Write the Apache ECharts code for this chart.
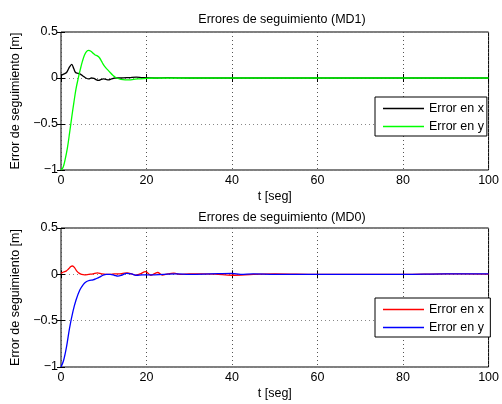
<!DOCTYPE html>
<html>
<head>
<meta charset="utf-8">
<script src="https://cdn.jsdelivr.net/npm/echarts@6/dist/echarts.min.js"></script>
<style>html,body{margin:0;padding:0;background:#fff;}#c{width:502px;height:404px;}</style>
</head>
<body>
<div id="c"></div>
<script>
// ---- Data ----
var titles = ['Errores de seguimiento (MD1)', 'Errores de seguimiento (MD0)'];
var seriesNames = ['Error en x', 'Error en y'];
var xTicks = [0, 20, 40, 60, 80, 100];
var yTicks = [-1, -0.5, 0, 0.5];

// MD1 (top)
var tX1 = [0, 0.5, 1.3, 2, 2.5, 3, 3.4, 4, 4.6, 5.2, 5.8, 6.5, 7.1, 7.7, 8.3, 8.8, 9.4, 9.9, 10.5, 11.1, 11.8, 12.6, 14, 16, 17.6, 19, 22, 25, 30, 40, 50, 60, 70, 80, 90, 100];
var eX1 = [0.03, 0.04, 0.06, 0.12, 0.148, 0.1, 0.06, 0.05, 0.04, 0.02, 0, -0.01, 0, -0.005, -0.02, -0.025, -0.015, -0.01, -0.015, -0.02, -0.01, 0, 0, 0.005, 0.01, 0.005, 0, 0.003, 0, 0, 0, 0, 0, 0, 0, 0];
var tY1 = [0, 0.5, 1, 1.5, 2, 2.5, 3, 3.5, 4, 4.5, 5, 5.5, 6, 6.5, 7, 7.5, 8, 8.5, 9, 9.5, 10, 10.5, 11, 11.5, 12, 12.5, 13, 14, 15, 16, 17, 18, 20, 22, 25, 30, 40, 60, 80, 100];
var eY1 = [-1, -0.97, -0.88, -0.76, -0.6, -0.43, -0.27, -0.12, -0.01, 0.09, 0.18, 0.25, 0.29, 0.3, 0.29, 0.27, 0.25, 0.24, 0.22, 0.18, 0.14, 0.11, 0.085, 0.06, 0.035, 0.015, 0, -0.015, -0.02, -0.02, -0.015, -0.01, -0.005, 0, 0, 0, 0, 0, 0, 0];

// MD0 (bottom)
var tX0 = [0, 0.6, 1.2, 1.8, 2.3, 2.7, 3.2, 3.7, 4.3, 4.8, 5.5, 6.5, 7.5, 8.5, 9.5, 10.5, 11.5, 12.5, 13.5, 14.5, 15.5, 16.5, 17.5, 18.5, 19.8, 21, 22.6, 23.7, 25, 26.4, 28, 30, 33, 36, 40, 45, 50, 60, 70, 80, 90, 100];
var eX0 = [0.01, 0.025, 0.035, 0.06, 0.085, 0.09, 0.07, 0.035, 0.01, 0, -0.005, 0, 0.005, 0.015, 0.005, 0, 0, 0.005, 0.005, 0.01, 0.015, 0.005, -0.01, 0.005, 0.03, -0.01, 0.02, -0.008, 0.005, 0.012, 0, 0.005, 0.005, 0.003, -0.01, 0, 0.005, 0, 0, 0, 0.005, 0.003];
var tY0 = [0, 0.6, 1.3, 2, 2.8, 3.5, 4.4, 5.2, 5.9, 6.7, 7.5, 8.3, 9, 9.8, 10.6, 11.5, 12.5, 13.3, 14.2, 15.3, 16.5, 17.6, 19, 21, 24, 27, 30, 35, 40, 42, 45, 50, 60, 70, 80, 90, 100];
var eY0 = [-1, -0.93, -0.78, -0.58, -0.40, -0.28, -0.17, -0.11, -0.08, -0.065, -0.06, -0.045, -0.03, -0.01, 0, 0, -0.01, -0.02, -0.01, 0.01, 0.005, -0.01, -0.005, -0.005, 0, 0.005, 0, 0.005, 0.01, 0, 0.005, 0, 0, 0, 0, 0.005, 0.005];

function pairs(t, v) { return t.map(function (x, i) { return [x, v[i]]; }); }

var FONT = 'Liberation Sans, Arial, sans-serif';
var FS = 12.5;
var chart = echarts.init(document.getElementById('c'));

function fmt(v) { return String(v).replace('-', '\u2212'); }

var grids = [
  { left: 61, right: 10, top: 32, height: 138, show: true, borderColor: '#000', borderWidth: 1, backgroundColor: '#fff' },
  { left: 61, right: 10, top: 228, height: 139, show: true, borderColor: '#000', borderWidth: 1, backgroundColor: '#fff' }
];

var xAxes = [], yAxes = [];
[0, 1].forEach(function (g) {
  xAxes.push({
    type: 'value', gridIndex: g, min: xTicks[0], max: xTicks[xTicks.length - 1], interval: 20,
    position: 'bottom',
    name: 't [seg]', nameLocation: 'middle', nameGap: 20,
    nameTextStyle: { color: '#000', fontSize: FS, fontFamily: FONT },
    axisLine: { show: false },
    axisTick: { show: true, inside: true, length: 4, lineStyle: { color: '#000' } },
    axisLabel: { color: '#000', fontSize: FS, fontFamily: FONT, margin: 4, formatter: fmt },
    splitLine: { show: true, lineStyle: { color: '#555', type: [1, 3], width: 1 } }
  });
  xAxes.push({
    type: 'value', gridIndex: g, min: xTicks[0], max: xTicks[xTicks.length - 1], interval: 20,
    position: 'top',
    axisLine: { show: false },
    axisTick: { show: true, inside: true, length: 4, lineStyle: { color: '#000' } },
    axisLabel: { show: false }, splitLine: { show: false }
  });
  yAxes.push({
    type: 'value', gridIndex: g, min: yTicks[0], max: yTicks[yTicks.length - 1], interval: 0.5,
    position: 'left',
    name: 'Error de seguimiento [m]', nameLocation: 'middle', nameGap: 35,
    nameTextStyle: { color: '#000', fontSize: FS, fontFamily: FONT },
    axisLine: { show: false },
    axisTick: { show: true, inside: true, length: 4, lineStyle: { color: '#000' } },
    axisLabel: { color: '#000', fontSize: FS, fontFamily: FONT, margin: 3, formatter: fmt },
    splitLine: { show: true, lineStyle: { color: '#888', type: [1, 3], width: 1 } }
  });
  yAxes.push({
    type: 'value', gridIndex: g, min: yTicks[0], max: yTicks[yTicks.length - 1], interval: 0.5,
    position: 'right',
    axisLine: { show: false },
    axisTick: { show: true, inside: true, length: 4, lineStyle: { color: '#000' } },
    axisLabel: { show: false }, splitLine: { show: false }
  });
});

function line(name, data, color, g) {
  return {
    type: 'line', name: name, data: data, xAxisIndex: g * 2, yAxisIndex: g * 2,
    symbol: 'none', smooth: 0.35, lineStyle: { color: color, width: 1.3 }, itemStyle: { color: color },
    animation: false, z: 3
  };
}

var n0 = seriesNames[0] + ' ', n1 = seriesNames[1] + ' ';
var series = [
  line(seriesNames[0], pairs(tX1, eX1), '#000000', 0),
  line(seriesNames[1], pairs(tY1, eY1), '#00ff00', 0),
  line(n0, pairs(tX0, eX0), '#ff0000', 1),
  line(n1, pairs(tY0, eY0), '#0000ff', 1)
];

function legend(top, names) {
  return {
    left: 375, top: top, orient: 'vertical',
    data: names.map(function (n) { return { name: n, icon: 'rect' }; }),
    backgroundColor: '#fff', borderColor: '#000', borderWidth: 1,
    padding: [4, 3, 2, 8], itemGap: 3, itemWidth: 41, itemHeight: 1.3,
    textStyle: { color: '#000', fontSize: FS, fontFamily: FONT, lineHeight: 15 },
    selectedMode: false
  };
}

chart.setOption({
  animation: false,
  title: [
    { text: titles[0], left: 277, top: 8, textAlign: 'center', textStyle: { fontSize: FS, fontWeight: 'normal', color: '#000', fontFamily: FONT } },
    { text: titles[1], left: 277, top: 206, textAlign: 'center', textStyle: { fontSize: FS, fontWeight: 'normal', color: '#000', fontFamily: FONT } }
  ],
  legend: [legend(97, seriesNames), legend(298, [n0, n1])],
  grid: grids,
  xAxis: xAxes,
  yAxis: yAxes,
  series: series
});
</script>
</body>
</html>
